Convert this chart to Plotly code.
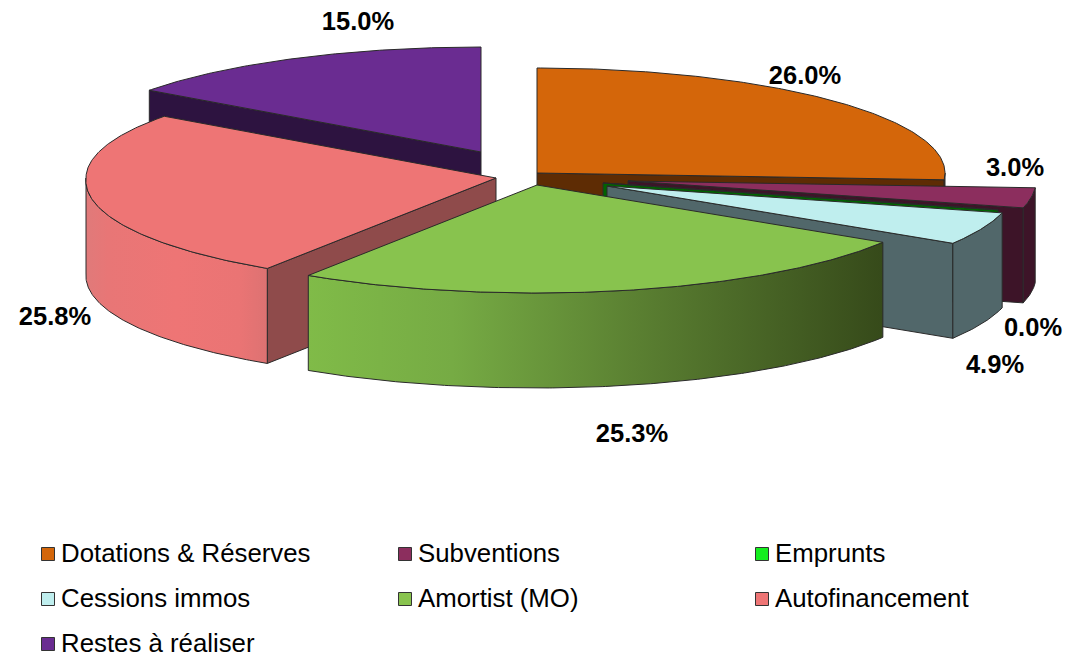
import numpy as np
import plotly.graph_objects as go

# ---- data ----
categories = ["Dotations & Réserves", "Subventions", "Emprunts", "Cessions immos",
              "Amortist (MO)", "Autofinancement", "Restes à réaliser"]
values = [26.0, 3.0, 0.0, 4.9, 25.3, 25.8, 15.0]

# ---- styles ----
top_colors = ["#d4660a", "#8c2e5e", "#14ee1e", "#bfeeee", "#88c34e", "#ee7575", "#6a2c91"]
wall_colors = ["#5e2c04", "#3d1428", "#006400", "#51676a", "#3a4f1c", "#8f4b4b", "#2d1340"]
wall_gradients = {
    4: [[0, "#80bb48"], [0.25, "#76ab44"], [0.6, "#587c30"], [1, "#364a1a"]],
    5: [[0, "#e07a7a"], [0.12, "#e87676"], [0.5, "#ee7575"], [0.85, "#ea7474"], [1, "#dd7272"]],
}
edge = "#2a2a2a"

# ---- geometry of the tilted pie, in figure pixels ----
DEPTH = 95
apex_x = [537, 628, 603, 607, 537, 496, 481]
apex_y = [173, 181, 183, 186, 185, 178, 152]
draw_order = [6, 0, 1, 2, 3, 5, 4]

label_x = [805, 1015, 1033, 995, 632, 55, 358]
label_y = [78, 170, 330, 367, 436, 319, 24]

legend_sw_x = [48, 405, 762, 48, 405, 762, 48]
legend_y = [554, 554, 554, 599, 599, 599, 644]
legend_text_offset = 2

FONT = "Liberation Sans, Arial, sans-serif"


def arc(cx, cy, t0, t1):
    deg = np.linspace(t0, t1, max(2, int(abs(t1 - t0) * 2) + 2))
    t = np.radians(deg)
    c, s = np.cos(t), np.sin(t)
    # slight perspective: the near half of the pie is a little larger
    rx = np.where(deg > 180, 410 * (1 + 0.025 * np.maximum(0, -c)), 408.0)
    ry = np.where(c < 0, 108.0, 105.0)
    return cx + rx * s, cy - ry * c


def poly(x, y, fill, name, gradient=None, xspan=None):
    x = list(x) + [x[0]]
    y = list(y) + [y[0]]
    kw = dict(fillcolor=fill)
    if gradient is not None:
        kw = dict(fillgradient=dict(type="horizontal", colorscale=gradient,
                                    start=xspan[0], stop=xspan[1]))
    return go.Scatter(x=x, y=y, mode="lines", fill="toself", name=name,
                      line=dict(color=edge, width=1), hoverinfo="name", **kw)


edges = np.concatenate([[0], np.cumsum(values)]) / sum(values) * 360
fig = go.Figure()

for i in draw_order:
    cx, cy = apex_x[i], apex_y[i]
    t0, t1 = edges[i], edges[i + 1]
    name = categories[i]
    # radial cut faces, only those that face the viewer
    cuts = []
    if np.sin(np.radians(t0)) < -1e-9:
        cuts.append(t0)
    if np.sin(np.radians(t1)) > 1e-9:
        cuts.append(t1)
    for t in cuts:
        ex, ey = arc(cx, cy, t, t)
        ex, ey = ex[0], ey[0]
        fig.add_trace(poly([cx, ex, ex, cx], [cy, ey, ey + DEPTH, cy + DEPTH],
                           wall_colors[i], name))
    # outer rim, only where it faces the viewer
    a0, a1 = max(t0, 90), min(t1, 270)
    if a1 > a0:
        ax, ay = arc(cx, cy, a0, a1)
        px = np.concatenate([ax, ax[::-1]])
        py = np.concatenate([ay, ay[::-1] + DEPTH])
        if i in wall_gradients:
            fig.add_trace(poly(px, py, wall_colors[i], name, wall_gradients[i],
                               (float(ax.min()), float(ax.max()))))
        else:
            fig.add_trace(poly(px, py, wall_colors[i], name))
    # top face
    ax, ay = arc(cx, cy, t0, t1)
    fig.add_trace(poly(np.concatenate([[cx], ax]), np.concatenate([[cy], ay]),
                       top_colors[i], name))

# data labels
fig.add_trace(go.Scatter(x=label_x, y=label_y, mode="text",
                         text=[f"{v:.1f}%" for v in values], textposition="middle center",
                         textfont=dict(family=FONT, size=25.5, color="#000000"),
                         texttemplate="<b>%{text}</b>", hoverinfo="skip"))

# legend
fig.add_trace(go.Scatter(x=legend_sw_x, y=legend_y, mode="markers",
                         marker=dict(symbol="square", size=13, color=top_colors,
                                     line=dict(color="#333333", width=1)),
                         hoverinfo="skip"))
fig.add_trace(go.Scatter(x=[v + 13 for v in legend_sw_x],
                         y=[v + legend_text_offset for v in legend_y], mode="text",
                         text=categories, textposition="middle right",
                         textfont=dict(family=FONT, size=25.8, color="#000000"),
                         hoverinfo="skip"))

fig.update_layout(
    width=1083, height=657, margin=dict(l=0, r=0, t=0, b=0),
    paper_bgcolor="white", plot_bgcolor="white", showlegend=False,
    xaxis=dict(range=[0, 1083], visible=False, fixedrange=True),
    yaxis=dict(range=[657, 0], visible=False, fixedrange=True),
)
fig.write_html("out.html", config={"displayModeBar": False},
               post_script="document.body.style.margin='0';document.body.style.overflow='hidden';")
